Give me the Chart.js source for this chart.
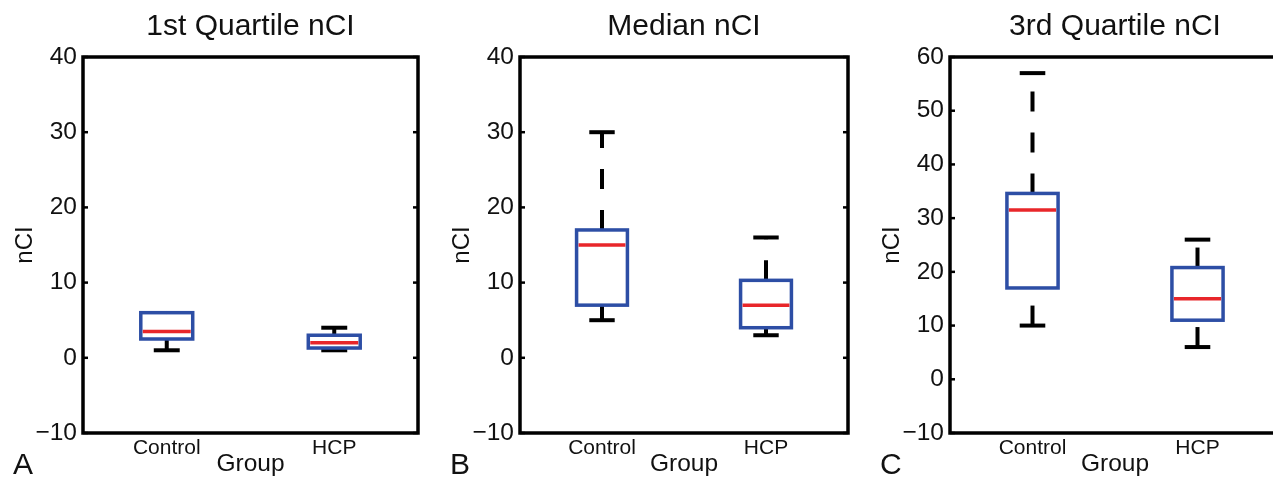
<!DOCTYPE html>
<html>
<head>
<meta charset="utf-8">
<script src="https://cdn.jsdelivr.net/npm/chart.js@4.4.1/dist/chart.umd.min.js"></script>
<style>
  html, body { margin: 0; padding: 0; background: #fff; overflow: hidden; }
  .panel { position: absolute; top: 0; }
</style>
</head>
<body>
<canvas id="chartA" class="panel" style="left:0px" width="430" height="479"></canvas>
<canvas id="chartB" class="panel" style="left:437px" width="423" height="479"></canvas>
<canvas id="chartC" class="panel" style="left:867px" width="425" height="479"></canvas>
<script>
// Datos: [min, q1, mediana, q3, max]
const groups = ['Control', 'HCP'];
const firstQControl = [1, 2.5, 3.5, 6, 6];
const firstQHcp = [1, 1.3, 2, 3, 4];
const medianControl = [5, 7, 15, 17, 30];
const medianHcp = [3, 4, 7, 10.3, 16];
const thirdQControl = [10, 17, 31.5, 34.6, 57];
const thirdQHcp = [6, 11, 15, 20.8, 26];
const yRangeAB = [-10, 40];
const yRangeC = [-10, 60];
const yStep = 10;

const FONT = "'Liberation Sans', Arial, Helvetica, sans-serif";
const BLUE = '#2d4ea5';
const RED = '#e8262a';
Chart.defaults.color = '#111';
Chart.defaults.font.family = FONT;

function line(ctx, x1, y1, x2, y2) {
    ctx.beginPath();
    ctx.moveTo(x1, y1);
    ctx.lineTo(x2, y2);
    ctx.stroke();
}

// Marco negro con marcas hacia dentro
const framePlugin = {
    id: 'frame',
    afterDraw(chart) {
        const { ctx, chartArea: a, scales: { y } } = chart;
        ctx.save();
        ctx.strokeStyle = '#000';
        ctx.lineWidth = 3.5;
        ctx.strokeRect(a.left, a.top, a.right - a.left, a.bottom - a.top);
        ctx.lineWidth = 2.5;
        y.ticks.forEach(t => {
            const py = y.getPixelForValue(t.value);
            line(ctx, a.left, py, a.left + 5, py);
            line(ctx, a.right - 5, py, a.right, py);
        });
        ctx.restore();
    }
};

// Cajas y bigotes dibujados con las escalas del grafico
const boxPlugin = {
    id: 'boxes',
    afterDatasetsDraw(chart) {
        const { ctx, scales: { x, y } } = chart;
        ctx.save();
        chart.data.datasets.forEach(ds => {
            const s = ds.stats;
            const cx = x.getPixelForValue(ds.data[0].x);
            const half = x.getPixelForValue(ds.data[0].x + 0.155) - cx;
            const cap = half / 2;
            const py = s.map(v => y.getPixelForValue(v));

            ctx.strokeStyle = '#000';
            ctx.lineWidth = 4;
            ctx.lineCap = 'butt';
            ctx.setLineDash([20, 21]);
            line(ctx, cx, py[0], cx, py[1]);
            line(ctx, cx, py[3], cx, py[4]);
            ctx.setLineDash([]);
            // los topes que coinciden con la caja quedan tapados
            if (s[0] < s[1]) line(ctx, cx - cap, py[0], cx + cap, py[0]);
            if (s[4] > s[3]) line(ctx, cx - cap, py[4], cx + cap, py[4]);

            ctx.strokeStyle = BLUE;
            ctx.lineWidth = 3.5;
            ctx.strokeRect(cx - half, py[3], 2 * half, py[1] - py[3]);

            ctx.strokeStyle = RED;
            ctx.lineWidth = 3.5;
            line(ctx, cx - half + 2, py[2], cx + half - 2, py[2]);
        });
        ctx.restore();
    }
};

// Letra del panel (A, B, C)
const letterPlugin = {
    id: 'letter',
    afterDraw(chart, args, opts) {
        const { ctx, chartArea: a } = chart;
        ctx.save();
        ctx.font = '30px ' + FONT;
        ctx.fillStyle = '#111';
        ctx.textBaseline = 'alphabetic';
        ctx.fillText(opts.text, a.left - 70, 474);
        ctx.restore();
    }
};

function crearPanel(id, titulo, letra, control, hcp, rango) {
    const ctx = document.getElementById(id).getContext('2d');
    return new Chart(ctx, {
        type: 'scatter',
        data: {
            datasets: [
                { data: [{ x: 1, y: control[2] }], stats: control, pointRadius: 0 },
                { data: [{ x: 2, y: hcp[2] }], stats: hcp, pointRadius: 0 }
            ]
        },
        options: {
            responsive: false,
            animation: false,
            layout: { padding: { left: 0, right: 12, top: 0, bottom: 0 } },
            plugins: {
                legend: { display: false },
                tooltip: { enabled: false },
                title: {
                    display: true,
                    fullSize: false,
                    text: titulo,
                    color: '#111',
                    font: { size: 30, weight: 'normal' },
                    padding: { top: 9, bottom: 12 }
                },
                letter: { text: letra }
            },
            scales: {
                x: {
                    type: 'linear',
                    min: 0.5,
                    max: 2.5,
                    grid: { display: false, drawTicks: false },
                    border: { display: false },
                    afterBuildTicks: scale => {
                        scale.ticks = groups.map((g, i) => ({ value: i + 1 }));
                    },
                    afterFit: scale => { scale.height = 46; },
                    ticks: {
                        autoSkip: false,
                        padding: 3,
                        font: { size: 21 },
                        callback: v => groups[v - 1]
                    },
                    title: {
                        display: true,
                        text: 'Group',
                        font: { size: 24.5 },
                        padding: { top: 0, bottom: 0 }
                    }
                },
                y: {
                    min: rango[0],
                    max: rango[1],
                    grid: { display: false, drawTicks: false },
                    border: { display: false },
                    afterFit: scale => { scale.width = 83; },
                    ticks: {
                        stepSize: yStep,
                        padding: 6,
                        font: { size: 24.5 },
                        callback: v => v < 0 ? '\u2212' + Math.abs(v) : v
                    },
                    title: {
                        display: true,
                        text: 'nCI',
                        font: { size: 24 },
                        padding: { top: 10.6, bottom: 0 }
                    }
                }
            }
        },
        plugins: [framePlugin, boxPlugin, letterPlugin]
    });
}

crearPanel('chartA', '1st Quartile nCI', 'A', firstQControl, firstQHcp, yRangeAB);
crearPanel('chartB', 'Median nCI', 'B', medianControl, medianHcp, yRangeAB);
crearPanel('chartC', '3rd Quartile nCI', 'C', thirdQControl, thirdQHcp, yRangeC);
</script>
</body>
</html>
